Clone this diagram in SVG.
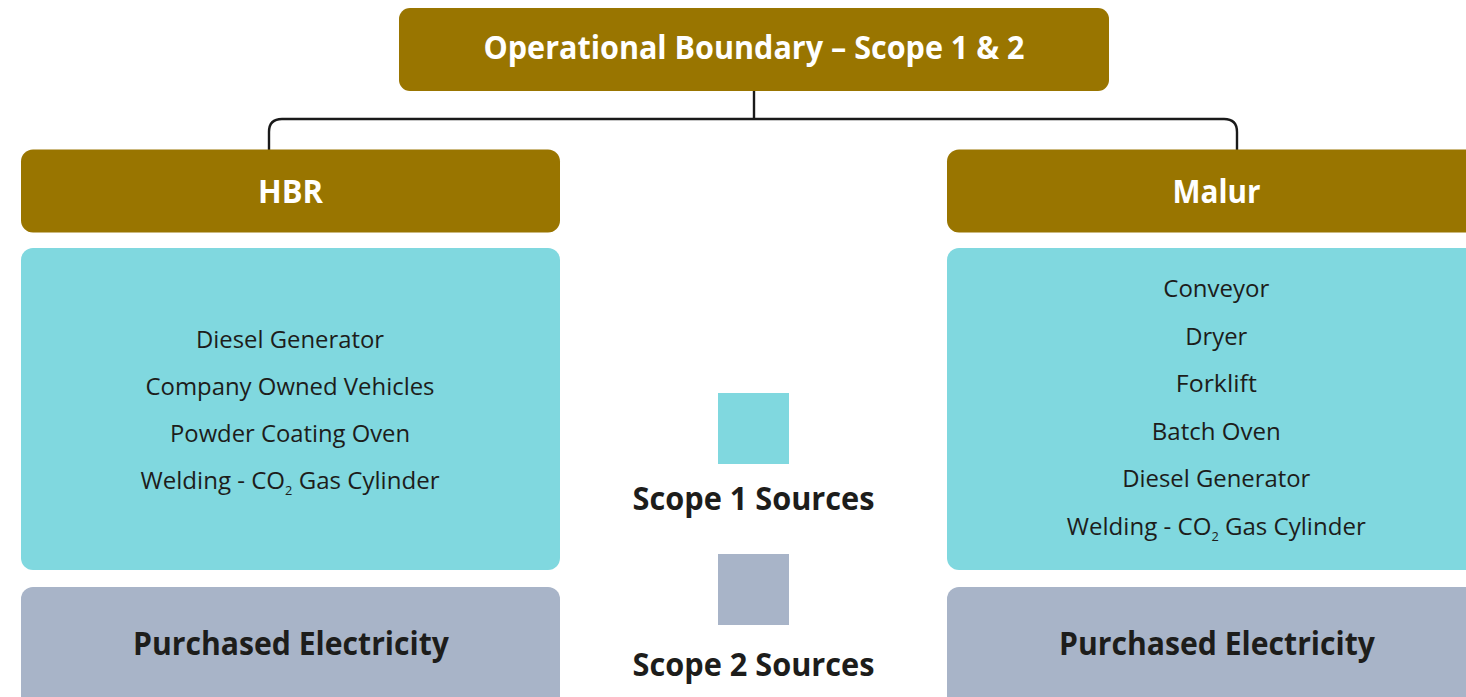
<svg xmlns="http://www.w3.org/2000/svg" width="1466" height="697" viewBox="0 0 1466 697">
  <style>
    .head { fill: #997500; }
    .s1 { fill: #80d8df; }
    .s2 { fill: #a8b4c8; }
    .t { font-family: "Open Sans", "Noto Sans", sans-serif; text-anchor: middle; }
    .hd { font-weight: 700; fill: #ffffff; font-size: 33px; }
    .it { font-weight: 400; fill: #1d1d1b; font-size: 24.5px; }
    .bd { font-weight: 700; fill: #1d1d1b; font-size: 32.5px; }
    .sub { font-size: 13px; }
    .wire { fill: none; stroke: #1a1a1a; stroke-width: 2.4; }
  </style>
  <rect width="1466" height="697" fill="#ffffff"/>

  <!-- tree connectors -->
  <g id="connectors">
    <path class="wire" d="M754 91 V119"/>
    <path class="wire" d="M269 150 V132 Q269 119 282 119 H1224 Q1237 119 1237 132 V150"/>
  </g>

  <!-- root -->
  <g id="node-root">
    <rect class="head" x="399" y="8" width="710" height="83" rx="11"/>
    <text class="t hd" x="754" y="59" textLength="541" lengthAdjust="spacingAndGlyphs">Operational Boundary – Scope 1 &amp; 2</text>
  </g>

  <!-- HBR site -->
  <g id="node-hbr">
    <rect class="head" x="21" y="149.5" width="539" height="83" rx="12"/>
    <text class="t hd" x="290.5" y="203.3" textLength="65" lengthAdjust="spacingAndGlyphs">HBR</text>
  </g>
  <g id="node-hbr-scope1">
    <rect class="s1" x="21" y="248" width="539" height="322" rx="12"/>
    <text class="t it" x="290" y="347.5" textLength="188" lengthAdjust="spacingAndGlyphs">Diesel Generator</text>
    <text class="t it" x="290" y="394.8" textLength="289" lengthAdjust="spacingAndGlyphs">Company Owned Vehicles</text>
    <text class="t it" x="290" y="442.1" textLength="240" lengthAdjust="spacingAndGlyphs">Powder Coating Oven</text>
    <text class="t it" x="290" y="489.4" textLength="299" lengthAdjust="spacingAndGlyphs">Welding - CO<tspan class="sub" dy="6">2</tspan><tspan dy="-6"> Gas Cylinder</tspan></text>
  </g>
  <g id="node-hbr-scope2">
    <rect class="s2" x="21" y="587" width="539" height="130" rx="12"/>
    <text class="t bd" x="291" y="655" textLength="316" lengthAdjust="spacingAndGlyphs">Purchased Electricity</text>
  </g>

  <!-- Malur site -->
  <g id="node-malur">
    <rect class="head" x="947" y="149.5" width="539" height="83" rx="12"/>
    <text class="t hd" x="1216.5" y="203.3" textLength="88" lengthAdjust="spacingAndGlyphs">Malur</text>
  </g>
  <g id="node-malur-scope1">
    <rect class="s1" x="947" y="248" width="539" height="322" rx="12"/>
    <text class="t it" x="1216.3" y="297.3" textLength="106" lengthAdjust="spacingAndGlyphs">Conveyor</text>
    <text class="t it" x="1216.3" y="345" textLength="62" lengthAdjust="spacingAndGlyphs">Dryer</text>
    <text class="t it" x="1216.3" y="392.3" textLength="81" lengthAdjust="spacingAndGlyphs">Forklift</text>
    <text class="t it" x="1216.3" y="440" textLength="129" lengthAdjust="spacingAndGlyphs">Batch Oven</text>
    <text class="t it" x="1216.3" y="487.2" textLength="188" lengthAdjust="spacingAndGlyphs">Diesel Generator</text>
    <text class="t it" x="1216.3" y="535" textLength="299" lengthAdjust="spacingAndGlyphs">Welding - CO<tspan class="sub" dy="6">2</tspan><tspan dy="-6"> Gas Cylinder</tspan></text>
  </g>
  <g id="node-malur-scope2">
    <rect class="s2" x="947" y="587" width="539" height="130" rx="12"/>
    <text class="t bd" x="1217" y="655" textLength="316" lengthAdjust="spacingAndGlyphs">Purchased Electricity</text>
  </g>

  <!-- legend -->
  <g id="legend-scope1">
    <rect class="s1" x="718" y="393" width="71" height="71"/>
    <text class="t bd" x="753.5" y="509.5" textLength="242" lengthAdjust="spacingAndGlyphs">Scope 1 Sources</text>
  </g>
  <g id="legend-scope2">
    <rect class="s2" x="718" y="554" width="71" height="71"/>
    <text class="t bd" x="753.5" y="676" textLength="242" lengthAdjust="spacingAndGlyphs">Scope 2 Sources</text>
  </g>
</svg>
